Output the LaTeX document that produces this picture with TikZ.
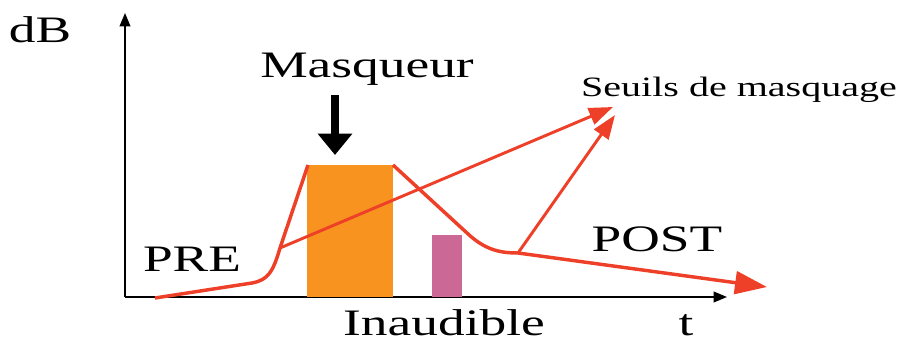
\documentclass[tikz,border=0pt]{standalone}
\usepackage{fontspec}
\setmainfont[FakeStretch=1.43]{Liberation Serif}
\usetikzlibrary{arrows.meta}
\definecolor{thred}{HTML}{EE4028}
\definecolor{maskor}{HTML}{F7931E}
\definecolor{inpink}{HTML}{CC6895}
\tikzset{
  axis/.style={line width=1.3pt, -{Triangle[length=10pt,width=8pt]}},
  thcurve/.style={draw=thred, line width=2.6pt, line join=round},
  tharr/.style={thred, line width=2.2pt, -{Triangle[length=18pt,width=13pt]}},
  biglbl/.style={inner sep=0pt, anchor=base, font=\fontsize{28}{30}\selectfont},
  smalllbl/.style={inner sep=0pt, anchor=base, font=\fontsize{21}{24}\selectfont}}

\begin{document}
\begin{tikzpicture}[x=0.75pt, y=-0.75pt]
  \useasboundingbox (0,0) rectangle (907,342);
  % axes
  \coordinate (o) at (125,297);
  \coordinate (ytop) at (125,13);
  \coordinate (xend) at (727,297);
  \draw[axis] (o) -- (ytop);
  \draw[axis] (o) -- (xend);
  % masker and inaudible sound
  \fill[maskor] (307,165) rectangle (393,297);
  \fill[inpink] (432,235) rectangle (462,297);
  % masking threshold
  \coordinate (pre) at (280,248);
  \coordinate (post) at (518,253);
  \coordinate (tipa) at (613,107);
  \coordinate (tipb) at (615,115);
  \draw[thcurve] (155,298) -- (252,283) .. controls (268,280) and (273,272) .. (pre) -- (308,165);
  \draw[thcurve, -{Triangle[length=24pt,width=17pt]}] (393,165) -- (467,233)
    .. controls (485,250) and (500,253) .. (post) -- (767,287);
  \draw[tharr] (pre) -- (tipa);
  \draw[tharr] (post) -- (tipb);
  % labels
  \node[biglbl] (db) at (40,43) {dB};
  \node[biglbl] (masq) at (367,78) {Masqueur};
  \node[smalllbl] (seuils) at (739,97) {Seuils de masquage};
  \node[biglbl] (prelbl) at (192,272) {PRE};
  \node[biglbl] (postlbl) at (657,252) {POST};
  \node[biglbl] (inaud) at (444,335) {Inaudible};
  \node[biglbl] (tlbl) at (686,335) {t};
  \coordinate (masktop) at (335,155);
  \draw[line width=6pt, -{Triangle[length=16pt,width=25pt]}] (masq.south -| masktop) ++(0,9) -- (masktop);
\end{tikzpicture}
\end{document}
